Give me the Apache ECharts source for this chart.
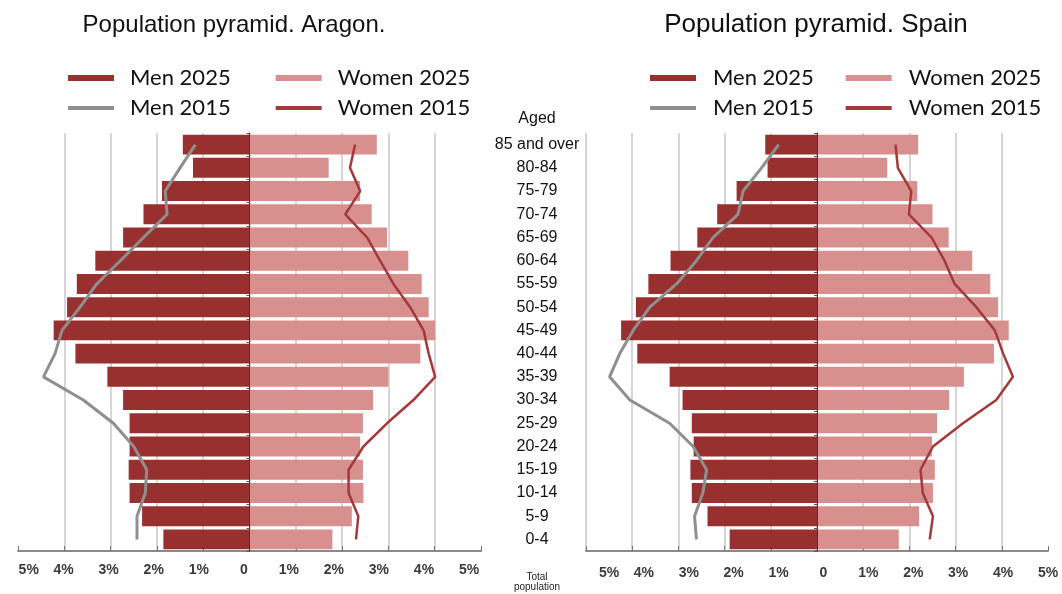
<!DOCTYPE html>
<html>
<head>
<meta charset="utf-8">
<script src="https://cdn.jsdelivr.net/npm/echarts@6/dist/echarts.min.js"></script>
<style>
  body { margin: 0; background: #fff; }
  #myChart { width: 1062px; height: 594px; }
</style>
</head>
<body>
<div id="myChart"></div>
<script>
// age groups, bottom (0-4) to top (85 and over)
const ageGroups = ['0-4', '5-9', '10-14', '15-19', '20-24', '25-29', '30-34', '35-39', '40-44',
  '45-49', '50-54', '55-59', '60-64', '65-69', '70-74', '75-79', '80-84', '85 and over'];

// Aragon, % of total population
const aragonMen2025 = [1.86, 2.32, 2.59, 2.61, 2.59, 2.59, 2.73, 3.07, 3.76, 4.23, 3.94, 3.73, 3.33, 2.73, 2.29, 1.89, 1.22, 1.44];
const aragonWomen2025 = [1.79, 2.21, 2.46, 2.45, 2.39, 2.45, 2.67, 3.00, 3.69, 4.01, 3.87, 3.72, 3.43, 2.97, 2.64, 2.39, 1.71, 2.75];
const aragonMen2015 = [2.43, 2.43, 2.25, 2.22, 2.50, 2.94, 3.59, 4.45, 4.20, 4.05, 3.66, 3.30, 2.79, 2.29, 1.78, 1.82, 1.50, 1.17];
const aragonWomen2015 = [2.30, 2.35, 2.14, 2.14, 2.46, 2.97, 3.54, 4.01, 3.87, 3.76, 3.47, 3.11, 2.82, 2.54, 2.07, 2.39, 2.17, 2.28];

// Spain, % of total population
const spainMen2025 = [1.89, 2.37, 2.71, 2.74, 2.67, 2.71, 2.91, 3.19, 3.89, 4.24, 3.92, 3.65, 3.17, 2.59, 2.16, 1.74, 1.07, 1.12];
const spainWomen2025 = [1.77, 2.21, 2.51, 2.55, 2.49, 2.60, 2.86, 3.18, 3.83, 4.15, 3.92, 3.75, 3.36, 2.85, 2.50, 2.17, 1.52, 2.19];
const spainMen2015 = [2.61, 2.65, 2.47, 2.39, 2.68, 3.19, 4.05, 4.49, 4.27, 3.98, 3.62, 3.04, 2.61, 2.25, 1.71, 1.60, 1.20, 0.83];
const spainWomen2015 = [2.44, 2.51, 2.29, 2.24, 2.51, 3.16, 3.88, 4.24, 4.03, 3.85, 3.45, 2.98, 2.76, 2.48, 1.99, 2.04, 1.75, 1.70];

const menColor = '#97302f';
const womenColor = '#d8908f';
const men2015Color = '#8f8f8f';
const women2015Color = '#a3393a';
const legendFont = 'Lato, "Noto Sans", sans-serif';
const axisFont = '"Liberation Sans", Arial, sans-serif';

let myChart = echarts.init(document.getElementById('myChart'));

const neg = arr => arr.map(v => -v);

// data grid (pyramid) x axis: lines only
function dataXAxis (gridIndex, showMin) {
  return {
    type: 'value', gridIndex: gridIndex, min: -5, max: 5, interval: 1,
    axisLabel: { show: false },
    axisLine: { show: true, lineStyle: { color: '#8a8a8a', width: 2 } },
    axisTick: { show: true, inside: true, length: 5, lineStyle: { color: '#777' } },
    splitLine: {
      show: true, showMinLine: showMin, showMaxLine: false,
      lineStyle: { color: '#d6d6d6', width: 2 }
    }
  };
}

// separate axis only for the % labels
function labelXAxis (gridIndex, margin) {
  return {
    type: 'value', gridIndex: gridIndex, min: -5, max: 5, interval: 1,
    axisLine: { show: false }, axisTick: { show: false }, splitLine: { show: false },
    axisLabel: {
      margin: margin, alignMinLabel: 'left',
      fontFamily: axisFont, fontSize: 14, fontWeight: 'bold', color: '#3a3a3a',
      formatter: v => (v === 0 ? '0' : Math.abs(v) + '%')
    }
  };
}

function pyramidYAxis (gridIndex) {
  return {
    type: 'category', gridIndex: gridIndex, data: ageGroups, z: 5,
    axisLabel: { show: false },
    axisLine: { show: true, lineStyle: { color: '#6a2726', width: 1 } },
    axisTick: { show: true, length: 3, lineStyle: { color: '#555' } }
  };
}

function pyramidSeries (idx, stack, men25, women25, men15, women15) {
  return [
    {
      name: 'Men 2025', type: 'bar', stack: stack, xAxisIndex: idx, yAxisIndex: idx,
      barCategoryGap: '14%', data: neg(men25), itemStyle: { color: menColor }
    },
    {
      name: 'Women 2025', type: 'bar', stack: stack, xAxisIndex: idx, yAxisIndex: idx,
      barCategoryGap: '14%', data: women25, itemStyle: { color: womenColor }
    },
    {
      name: 'Men 2015', type: 'line', xAxisIndex: idx, yAxisIndex: idx, z: 4,
      data: neg(men15), symbol: 'none',
      itemStyle: { color: men2015Color }, lineStyle: { color: men2015Color, width: 3 }
    },
    {
      name: 'Women 2015', type: 'line', xAxisIndex: idx, yAxisIndex: idx, z: 4,
      data: women15, symbol: 'none',
      itemStyle: { color: women2015Color }, lineStyle: { color: women2015Color, width: 2.5 }
    }
  ];
}

function legendRow (names, left, top, itemHeight, pad, gap) {
  return {
    data: names.map(n => ({ name: n, icon: 'rect' })),
    left: left, top: top, padding: 0,
    itemWidth: 46, itemHeight: itemHeight, itemGap: gap,
    selectedMode: false,
    formatter: name => '{t|' + name + '}',
    textStyle: {
      rich: {
        t: { fontFamily: legendFont, fontSize: 22, color: '#111', width: 100, padding: [0, 0, 0, pad] }
      }
    }
  };
}

let option = {
  animation: false,
  title: [
    {
      text: 'Population pyramid. Aragon.', left: 234, top: 13, padding: 0, textAlign: 'center',
      textStyle: { fontFamily: axisFont, fontSize: 24, fontWeight: 'normal', color: '#111' }
    },
    {
      text: 'Population pyramid. Spain', left: 816, top: 12, padding: 0, textAlign: 'center',
      textStyle: { fontFamily: axisFont, fontSize: 26, fontWeight: 'normal', color: '#111' }
    }
  ],
  legend: [
    legendRow(['Men 2025', 'Women 2025'], 68, 67, 6, 11, 45),
    legendRow(['Men 2015', 'Women 2015'], 68, 97, 4, 11, 45),
    legendRow(['Men 2025', 'Women 2025'], 650, 67, 6, 12, 32),
    legendRow(['Men 2015', 'Women 2015'], 650, 97, 4, 12, 32)
  ],
  grid: [
    { left: 18, width: 463, top: 133, height: 418 },   // Aragon
    { left: 586, width: 462, top: 133, height: 418 },  // Spain
    { left: 537, width: 1, top: 133, height: 418 },    // age labels in the middle
    { left: 18.6, width: 450.4, top: 133, height: 418 }, // Aragon % labels
    { left: 599, width: 449, top: 133, height: 418 }   // Spain % labels
  ],
  xAxis: [
    dataXAxis(0, false),
    dataXAxis(1, true),
    { type: 'value', gridIndex: 2, show: false },
    labelXAxis(3, 12),
    labelXAxis(4, 15)
  ],
  yAxis: [
    pyramidYAxis(0),
    pyramidYAxis(1),
    {
      type: 'category', gridIndex: 2, data: ageGroups,
      axisLine: { show: false }, axisTick: { show: false }, splitLine: { show: false },
      axisLabel: { align: 'center', margin: 0, fontFamily: axisFont, fontSize: 16, color: '#111' }
    },
    { type: 'category', gridIndex: 3, data: ageGroups, show: false },
    { type: 'category', gridIndex: 4, data: ageGroups, show: false }
  ],
  graphic: [
    {
      type: 'text', x: 537, y: 119,
      style: { text: 'Aged', align: 'center', verticalAlign: 'middle', fontFamily: axisFont, fontSize: 16, fill: '#111' }
    },
    {
      type: 'text', x: 537, y: 582,
      style: { text: 'Total\npopulation', align: 'center', verticalAlign: 'middle', fontFamily: axisFont, fontSize: 10, lineHeight: 10, fill: '#222' }
    }
  ],
  series: [].concat(
    pyramidSeries(0, 'aragon', aragonMen2025, aragonWomen2025, aragonMen2015, aragonWomen2015),
    pyramidSeries(1, 'spain', spainMen2025, spainWomen2025, spainMen2015, spainWomen2015)
  )
};

myChart.setOption(option);
</script>
</body>
</html>
